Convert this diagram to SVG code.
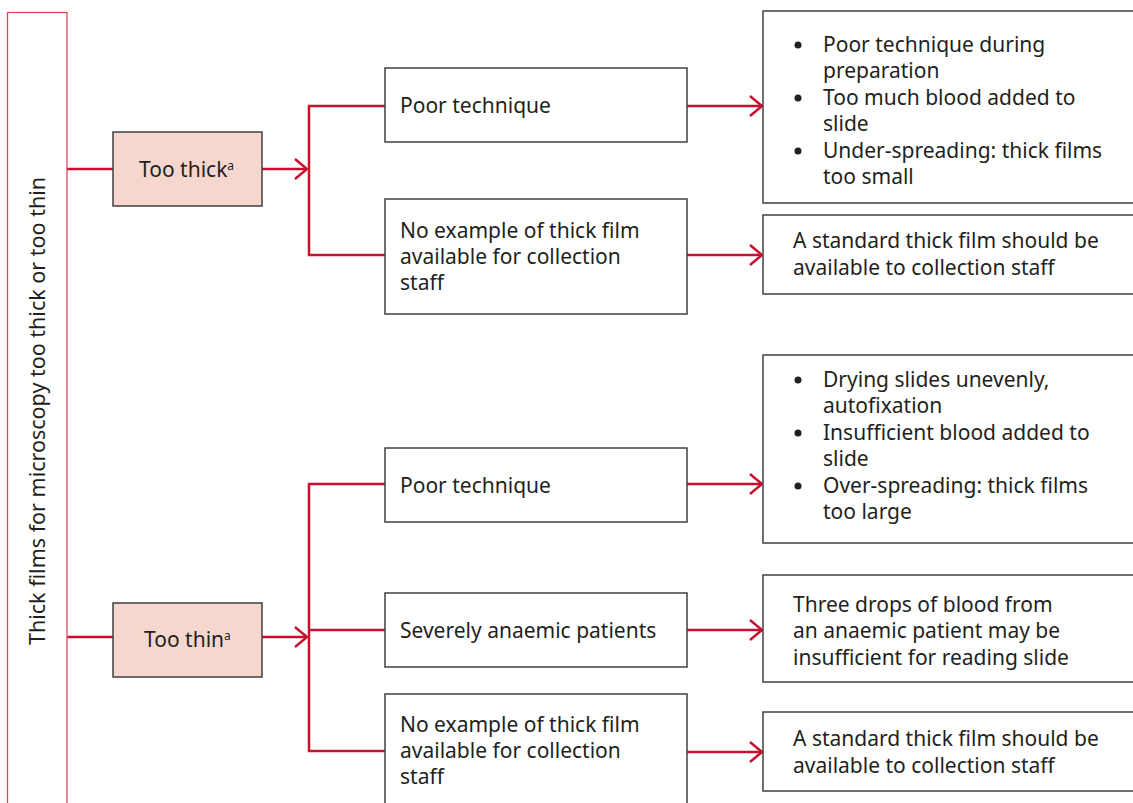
<svg xmlns="http://www.w3.org/2000/svg" width="1133" height="803" viewBox="0 0 1133 803">
<style>
.t{font-family:"Noto Sans","Open Sans",sans-serif;font-size:21px;fill:#231f20}
.v{font-size:21.5px}
.box{fill:#fff;stroke:#404040;stroke-width:1.5}
.pink{fill:#f5d7ce;stroke:#404040;stroke-width:1.5}
.c{fill:none;stroke:#c8102e;stroke-width:2.5}
.sup{font-size:12px}
</style>
<defs>
<marker id="ah" viewBox="0 0 14 22" refX="13" refY="11" markerWidth="14" markerHeight="22" markerUnits="userSpaceOnUse" orient="auto">
<path d="M1,1 L13,11 L1,21" fill="none" stroke="#c8102e" stroke-width="2.5"/>
</marker>
</defs>
<g id="connectors">
<path class="c" d="M67,169 H113"/>
<path class="c" d="M262,169 H307" marker-end="url(#ah)"/>
<path class="c" d="M385,106 H309 V255 H385"/>
<path class="c" d="M687,106 H762" marker-end="url(#ah)"/>
<path class="c" d="M687,255 H762" marker-end="url(#ah)"/>
<path class="c" d="M67,637 H113"/>
<path class="c" d="M262,637 H307" marker-end="url(#ah)"/>
<path class="c" d="M385,484 H309 V751 H385"/>
<path class="c" d="M309,630 H385"/>
<path class="c" d="M687,484 H762" marker-end="url(#ah)"/>
<path class="c" d="M687,630 H762" marker-end="url(#ah)"/>
<path class="c" d="M687,752 H762" marker-end="url(#ah)"/>
</g>
<g id="root">
<rect x="7.5" y="12.5" width="59.5" height="800" fill="#fff" stroke="#d9475c" stroke-width="1.3"/>
<text class="t v" transform="translate(45,411) rotate(-90)" text-anchor="middle">Thick films for microscopy too thick or too thin</text>
</g>
<g id="too-thick">
<rect class="pink" x="113" y="132" width="149" height="74"/>
<text class="t" x="139" y="177">Too thick<tspan class="sup" dy="-7">a</tspan></text>
</g>
<g id="too-thin">
<rect class="pink" x="113" y="603" width="149" height="74"/>
<text class="t" x="144" y="647">Too thin<tspan class="sup" dy="-7">a</tspan></text>
</g>
<g id="poor1">
<rect class="box" x="385" y="68" width="302" height="74"/>
<text class="t" x="400" y="113">Poor technique</text>
</g>
<g id="noex1">
<rect class="box" x="385" y="199" width="302" height="115"/>
<text class="t" x="400" y="238">No example of thick film</text>
<text class="t" x="400" y="264">available for collection</text>
<text class="t" x="400" y="290">staff</text>
</g>
<g id="res1">
<rect class="box" x="763" y="11" width="380" height="192"/>
<circle cx="798" cy="45" r="3.5" fill="#231f20"/>
<circle cx="798" cy="98" r="3.5" fill="#231f20"/>
<circle cx="798" cy="151" r="3.5" fill="#231f20"/>
<text class="t" x="823" y="52">Poor technique during</text>
<text class="t" x="823" y="78">preparation</text>
<text class="t" x="823" y="105">Too much blood added to</text>
<text class="t" x="823" y="131">slide</text>
<text class="t" x="823" y="158">Under-spreading: thick films</text>
<text class="t" x="823" y="184">too small</text>
</g>
<g id="res2">
<rect class="box" x="763" y="215" width="380" height="79"/>
<text class="t" x="793" y="248">A standard thick film should be</text>
<text class="t" x="793" y="275">available to collection staff</text>
</g>
<g id="poor2">
<rect class="box" x="385" y="448" width="302" height="74"/>
<text class="t" x="400" y="493">Poor technique</text>
</g>
<g id="anaemic">
<rect class="box" x="385" y="593" width="302" height="74"/>
<text class="t" x="400" y="638">Severely anaemic patients</text>
</g>
<g id="noex2">
<rect class="box" x="385" y="694" width="302" height="120"/>
<text class="t" x="400" y="732">No example of thick film</text>
<text class="t" x="400" y="758">available for collection</text>
<text class="t" x="400" y="784">staff</text>
</g>
<g id="res3">
<rect class="box" x="763" y="355" width="380" height="188"/>
<circle cx="798" cy="380" r="3.5" fill="#231f20"/>
<circle cx="798" cy="433" r="3.5" fill="#231f20"/>
<circle cx="798" cy="486" r="3.5" fill="#231f20"/>
<text class="t" x="823" y="387">Drying slides unevenly,</text>
<text class="t" x="823" y="413">autofixation</text>
<text class="t" x="823" y="440">Insufficient blood added to</text>
<text class="t" x="823" y="466">slide</text>
<text class="t" x="823" y="493">Over-spreading: thick films</text>
<text class="t" x="823" y="519">too large</text>
</g>
<g id="res4">
<rect class="box" x="763" y="575" width="380" height="107"/>
<text class="t" x="793" y="612">Three drops of blood from</text>
<text class="t" x="793" y="638">an anaemic patient may be</text>
<text class="t" x="793" y="665">insufficient for reading slide</text>
</g>
<g id="res5">
<rect class="box" x="763" y="712" width="380" height="79"/>
<text class="t" x="793" y="746">A standard thick film should be</text>
<text class="t" x="793" y="773">available to collection staff</text>
</g>
</svg>
